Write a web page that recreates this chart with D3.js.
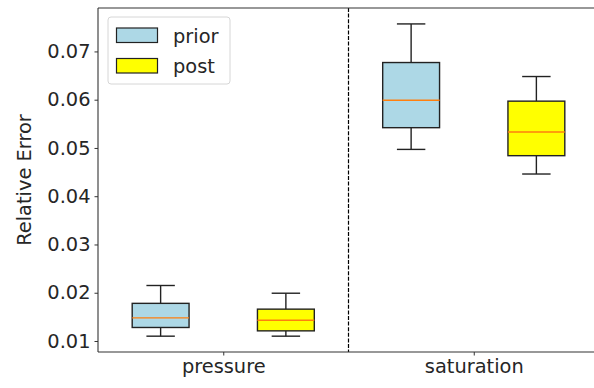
<!DOCTYPE html>
<html>
<head>
<meta charset="utf-8">
<script src="https://cdn.jsdelivr.net/npm/d3@7"></script>
<style>
  html, body { margin: 0; padding: 0; background: #fff; overflow: hidden; }
  svg { display: block; font-family: "DejaVu Sans", sans-serif; }
</style>
</head>
<body>
<svg id="chart" width="594" height="388"></svg>
<script>
// Variables on the x axis
const categories = ["pressure", "saturation"];
// Ensemble stages compared within each variable
const stages = ["prior", "post"];
const stageColors = ["#add8e6", "#ffff00"];

// Box statistics per variable: [lower whisker, Q1, median, Q3, upper whisker]
const priorStats = [
  [0.0110, 0.0128, 0.0148, 0.0178, 0.0215],
  [0.0497, 0.0542, 0.0599, 0.0677, 0.0757]
];
const postStats = [
  [0.0110, 0.0121, 0.0143, 0.0166, 0.0199],
  [0.0446, 0.0484, 0.0533, 0.0597, 0.0648]
];

const yTicks = [0.01, 0.02, 0.03, 0.04, 0.05, 0.06, 0.07];
const yLabel = "Relative Error";

const fontSize = 19.4;
const textColor = "#262626";

const svg = d3.select("#chart");
const plotLeft = 98, plotRight = 599, plotTop = 8, plotBottom = 352;

// Category positions are 1, 2 on a continuous axis (0.5 .. 2.5)
const x = d3.scaleLinear().domain([0.5, 2.5]).range([plotLeft, plotRight]);
const y = d3.scaleLinear().domain([0.00772, 0.0790]).range([plotBottom, plotTop]);

const offset = 0.25;      // stage offset from category centre
const boxW = 0.227;       // box width in category units
const capW = boxW / 2;

const plot = svg.append("g");

// separator between variables
plot.append("line")
  .attr("x1", x(1.5)).attr("x2", x(1.5))
  .attr("y1", plotTop).attr("y2", plotBottom)
  .attr("stroke", "#000").attr("stroke-width", 1.2)
  .attr("stroke-dasharray", "4,1.6");

const series = [priorStats, postStats];
series.forEach((stats, si) => {
  stats.forEach((s, ci) => {
    const cx = (ci + 1) + (si === 0 ? -offset : offset);
    const g = plot.append("g");
    const [lo, q1, med, q3, hi] = s;
    // whiskers
    g.append("line").attr("x1", x(cx)).attr("x2", x(cx))
      .attr("y1", y(q3)).attr("y2", y(hi))
      .attr("stroke", "#222").attr("stroke-width", 1.4);
    g.append("line").attr("x1", x(cx)).attr("x2", x(cx))
      .attr("y1", y(q1)).attr("y2", y(lo))
      .attr("stroke", "#222").attr("stroke-width", 1.4);
    // caps
    [lo, hi].forEach(v => {
      g.append("line")
        .attr("x1", x(cx - capW / 2)).attr("x2", x(cx + capW / 2))
        .attr("y1", y(v)).attr("y2", y(v))
        .attr("stroke", "#222").attr("stroke-width", 1.4);
    });
    // box
    g.append("rect")
      .attr("x", x(cx - boxW / 2)).attr("width", x(cx + boxW / 2) - x(cx - boxW / 2))
      .attr("y", y(q3)).attr("height", y(q1) - y(q3))
      .attr("fill", stageColors[si]).attr("stroke", "#222").attr("stroke-width", 1.4);
    // median
    g.append("line")
      .attr("x1", x(cx - boxW / 2)).attr("x2", x(cx + boxW / 2))
      .attr("y1", y(med)).attr("y2", y(med))
      .attr("stroke", "#ff7f0e").attr("stroke-width", 1.4);
  });
});

// spines (the right one falls outside the visible area)
const spines = svg.append("g").attr("stroke", "#333").attr("stroke-width", 1.1);
spines.append("line").attr("x1", plotLeft).attr("x2", plotLeft).attr("y1", plotTop).attr("y2", plotBottom);
spines.append("line").attr("x1", plotLeft).attr("x2", plotRight).attr("y1", plotTop).attr("y2", plotTop);
spines.append("line").attr("x1", plotLeft).attr("x2", plotRight).attr("y1", plotBottom).attr("y2", plotBottom);
spines.append("line").attr("x1", plotRight).attr("x2", plotRight).attr("y1", plotTop).attr("y2", plotBottom);

// y axis
const yAxis = svg.append("g")
  .attr("transform", `translate(${plotLeft},0)`)
  .call(d3.axisLeft(y).tickValues(yTicks).tickFormat(d3.format(".2f")).tickSize(3.5).tickPadding(4));
yAxis.select(".domain").remove();
yAxis.selectAll("line").attr("stroke", "#333");
yAxis.selectAll("text").attr("font-size", fontSize).attr("fill", textColor)
  .attr("font-family", "DejaVu Sans");

// x axis
const xAxis = svg.append("g")
  .attr("transform", `translate(0,${plotBottom})`)
  .call(d3.axisBottom(x).tickValues([1, 2]).tickFormat((d, i) => categories[i]).tickSize(3.5).tickPadding(4));
xAxis.select(".domain").remove();
xAxis.selectAll("line").attr("stroke", "#333");
xAxis.selectAll("text").attr("font-size", fontSize).attr("fill", textColor)
  .attr("font-family", "DejaVu Sans");

// y label
svg.append("text")
  .attr("transform", `translate(31,${(plotTop + plotBottom) / 2}) rotate(-90)`)
  .attr("text-anchor", "middle")
  .attr("font-size", fontSize).attr("fill", textColor)
  .text(yLabel);

// legend
const lg = svg.append("g").attr("transform", "translate(108,17)");
lg.append("rect")
  .attr("width", 122).attr("height", 67).attr("rx", 3)
  .attr("fill", "#fff").attr("fill-opacity", 0.8)
  .attr("stroke", "#d6d6d6").attr("stroke-width", 1);
stages.forEach((name, i) => {
  const row = lg.append("g").attr("transform", `translate(0,${11 + i * 30.5})`);
  row.append("rect")
    .attr("x", 8.5).attr("y", 0)
    .attr("width", 41).attr("height", 14.5)
    .attr("fill", stageColors[i]).attr("stroke", "#222").attr("stroke-width", 1.2);
  row.append("text")
    .attr("x", 65).attr("y", 14.5)
    .attr("font-size", fontSize).attr("fill", textColor)
    .text(name);
});
</script>
</body>
</html>
